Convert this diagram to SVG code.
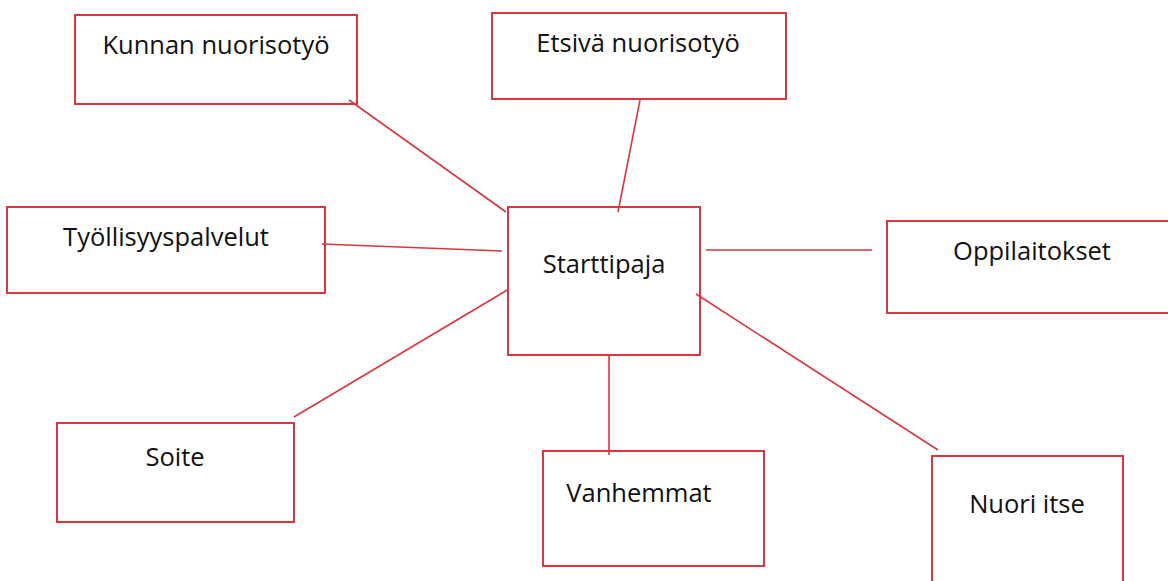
<svg xmlns="http://www.w3.org/2000/svg" width="1168" height="581" viewBox="0 0 1168 581">
<style>
.box{fill:#fff;stroke:#d9363e;stroke-width:2}
.ln{stroke:#d9363e;stroke-width:1.6;fill:none}
.t{font-family:"Open Sans","Noto Sans",sans-serif;font-size:25.5px;fill:#111;text-anchor:middle}
</style>
<rect width="1168" height="581" fill="#fff"/>
<g id="kunnan"><rect class="box" x="75" y="15" width="282" height="89"/><text class="t" x="216" y="54">Kunnan nuorisotyö</text></g>
<g id="etsiva"><rect class="box" x="492" y="13" width="294" height="86"/><text class="t" x="638" y="52">Etsivä nuorisotyö</text></g>
<g id="starttipaja"><rect class="box" x="508" y="207" width="192" height="148"/><text class="t" x="604" y="273">Starttipaja</text></g>
<g id="tyollisyys"><rect class="box" x="7" y="207" width="318" height="86"/><text class="t" x="166" y="246">Työllisyyspalvelut</text></g>
<g id="oppilaitokset"><rect class="box" x="887" y="221" width="290" height="92"/><text class="t" x="1032" y="260">Oppilaitokset</text></g>
<g id="soite"><rect class="box" x="57" y="423" width="237" height="99"/><text class="t" x="175" y="466">Soite</text></g>
<g id="vanhemmat"><rect class="box" x="543" y="451" width="221" height="115"/><text class="t" x="639" y="502">Vanhemmat</text></g>
<g id="nuori"><rect class="box" x="932" y="456" width="191" height="140"/><text class="t" x="1027" y="513">Nuori itse</text></g>
<g id="connectors">
<line class="ln" x1="349" y1="100" x2="506" y2="212"/>
<line class="ln" x1="640" y1="100" x2="618" y2="212"/>
<line class="ln" x1="322" y1="244" x2="502" y2="251"/>
<line class="ln" x1="706" y1="250" x2="872" y2="250"/>
<line class="ln" x1="294" y1="417" x2="509" y2="289"/>
<line class="ln" x1="609" y1="355" x2="609" y2="455"/>
<line class="ln" x1="696" y1="294" x2="938" y2="450"/>
</g>
</svg>
